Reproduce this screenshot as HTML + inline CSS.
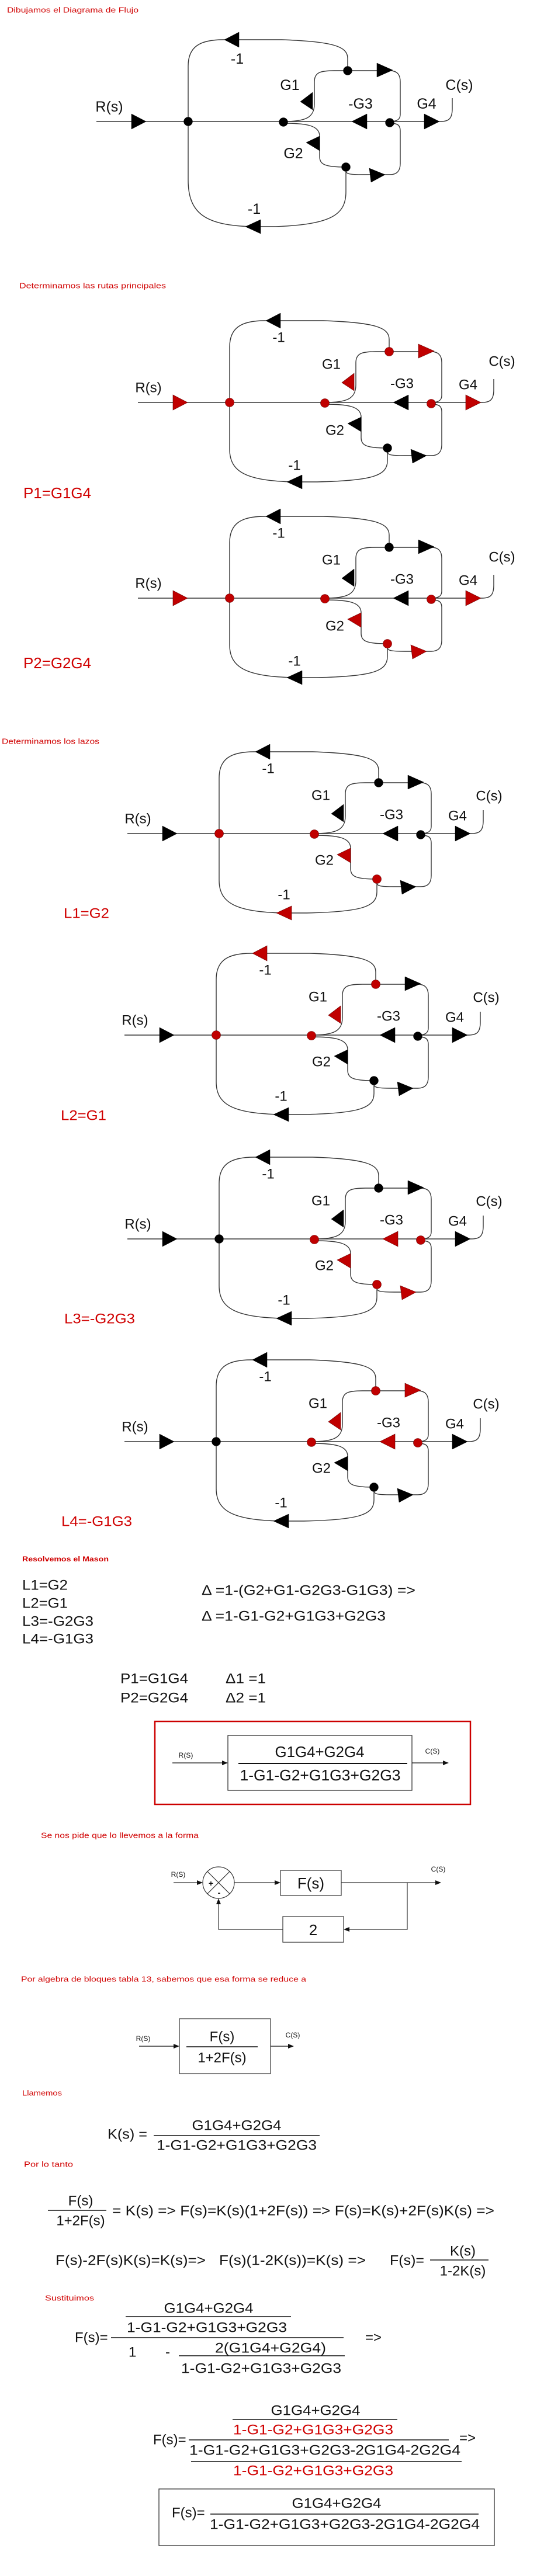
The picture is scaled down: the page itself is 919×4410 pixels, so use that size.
<!DOCTYPE html>
<html><head><meta charset="utf-8"><style>
html,body{margin:0;padding:0;background:#fff;}
svg{display:block;}
.t{font-family:"Liberation Sans",sans-serif;fill:#111;}
.r{font-family:"Liberation Sans",sans-serif;fill:#d00000;}
</style></head><body>
<svg width="919" height="4410" viewBox="0 0 919 4410" xmlns="http://www.w3.org/2000/svg">
<defs>
<g id="core" fill="none" stroke="#333" stroke-width="1.4">
  <path d="M-157 0 H346"/>
  <path d="M346 0 H432 C446 0 452 -5 452 -22 V-40"/>
  <path d="M0 0 V-95 C0 -128 20 -140 60 -140 H160 C250 -137 273 -128 273 -108 V-87"/>
  <path d="M163 0 C200 0 216 -6 216 -30 V-68 C216 -84 226 -87 250 -87 H273 H345 C358 -87 363 -80 363 -68 V-12 C363 -4 358 0 346 0"/>
  <path d="M163 3 C200 3 225 6 225 25 V60 C225 74 235 78 270 78 M270 78 V84 C270 90 276 91 300 91 H345 C358 91 363 84 363 72 V16 C363 6 358 3 346 3"/>
</g>
<path id="blN" fill="none" stroke="#333" stroke-width="1.4" d="M0 0 V80 C0 120 30 134 110 136 H150 C245 134 270 125 270 100 V78"/>
<path id="blD" fill="none" stroke="#333" stroke-width="1.4" d="M0 0 V100 C0 158 30 178 110 180 H150 C245 176 270 160 270 120 V78"/>
<polygon id="aIn" points="-97,-13 -72,0 -97,13"/>
<polygon id="aTL" points="62,-140 87,-153 87,-127"/>
<polygon id="aTR" points="323,-100 350,-88 323,-76"/>
<polygon id="aG1" points="192,-34 213,-50 213,-20"/>
<polygon id="aG2" points="202,36 225,25 225,50"/>
<polygon id="aG3" points="280,0 306,-13 306,13"/>
<polygon id="aG4" points="404,-13 430,0 404,13"/>
<polygon id="aLR" points="310,80 337,91 313,104"/>
<polygon id="aBL" points="98,136 124,124 124,148"/>
<polygon id="aBD" points="98,180 124,168 124,192"/>
<circle id="n1" cx="0" cy="0" r="7.5"/>
<circle id="n2" cx="163" cy="1" r="7.5"/>
<circle id="n3" cx="345" cy="2" r="7.5"/>
<circle id="n4" cx="273" cy="-87" r="7.5"/>
<circle id="n5" cx="270" cy="78" r="7.5"/>
<g id="lbl" class="t" font-size="24" text-anchor="middle" dominant-baseline="central">
</g>
</defs>

<!-- ===== Diagram 1 ===== -->
<text x="12" y="17" class="r" font-size="13" dominant-baseline="central" textLength="225" lengthAdjust="spacingAndGlyphs">Dibujamos el Diagrama de Flujo</text>
<g transform="translate(322,208)">
<use href="#core"/><use href="#blD"/>
<g fill="#000" stroke="#000" stroke-width="0.5">
<use href="#aIn"/><use href="#aTL"/><use href="#aTR"/><use href="#aG1"/><use href="#aG2"/><use href="#aG3"/><use href="#aG4"/><use href="#aLR"/><use href="#aBD"/>
<use href="#n1"/><use href="#n2"/><use href="#n3"/><use href="#n4"/><use href="#n5"/>
</g>
<g class="t" font-size="25" text-anchor="middle" dominant-baseline="central">
<text x="-135" y="-25">R(s)</text><text x="84" y="-107">-1</text><text x="174" y="-62">G1</text><text x="295" y="-30">-G3</text><text x="408" y="-30">G4</text><text x="464" y="-62">C(s)</text><text x="180" y="55">G2</text><text x="113" y="150">-1</text>
</g>
</g>

<!-- ===== P1 ===== -->
<text x="33" y="489" class="r" font-size="13" dominant-baseline="central" textLength="251" lengthAdjust="spacingAndGlyphs">Determinamos las rutas principales</text>
<g transform="translate(393,689)">
<use href="#core"/><use href="#blN"/>
<g fill="#000" stroke="#000" stroke-width="0.5"><use href="#aTL"/><use href="#aG2"/><use href="#aG3"/><use href="#aLR"/><use href="#aBL"/><use href="#n5"/></g>
<g fill="#c00000" stroke="#600" stroke-width="0.6"><use href="#aIn"/><use href="#aG1"/><use href="#aTR"/><use href="#aG4"/><use href="#n1"/><use href="#n2"/><use href="#n3"/><use href="#n4"/></g>
<g class="t" font-size="24" text-anchor="middle" dominant-baseline="central">
<text x="-139" y="-25">R(s)</text><text x="84" y="-111">-1</text><text x="174" y="-65">G1</text><text x="295" y="-32">-G3</text><text x="408" y="-30">G4</text><text x="466" y="-70">C(s)</text><text x="180" y="48">G2</text><text x="111" y="108">-1</text>
</g>
</g>
<text x="40" y="844" class="r" font-size="26" dominant-baseline="central" textLength="116" lengthAdjust="spacingAndGlyphs">P1=G1G4</text>

<!-- ===== P2 ===== -->
<g transform="translate(393,1024)">
<use href="#core"/><use href="#blN"/>
<g fill="#000" stroke="#000" stroke-width="0.5"><use href="#aTL"/><use href="#aG1"/><use href="#aG3"/><use href="#aTR"/><use href="#aBL"/><use href="#n4"/></g>
<g fill="#c00000" stroke="#600" stroke-width="0.6"><use href="#aIn"/><use href="#aG2"/><use href="#aLR"/><use href="#aG4"/><use href="#n1"/><use href="#n2"/><use href="#n3"/><use href="#n5"/></g>
<g class="t" font-size="24" text-anchor="middle" dominant-baseline="central">
<text x="-139" y="-25">R(s)</text><text x="84" y="-111">-1</text><text x="174" y="-65">G1</text><text x="295" y="-32">-G3</text><text x="408" y="-30">G4</text><text x="466" y="-70">C(s)</text><text x="180" y="48">G2</text><text x="111" y="108">-1</text>
</g>
</g>
<text x="40" y="1135" class="r" font-size="26" dominant-baseline="central" textLength="116" lengthAdjust="spacingAndGlyphs">P2=G2G4</text>

<!-- ===== L1 ===== -->
<text x="3" y="1269" class="r" font-size="13" dominant-baseline="central" textLength="167" lengthAdjust="spacingAndGlyphs">Determinamos los lazos</text>
<g transform="translate(375,1427)">
<use href="#core"/><use href="#blN"/>
<g fill="#000" stroke="#000" stroke-width="0.5"><use href="#aIn"/><use href="#aTL"/><use href="#aG1"/><use href="#aG3"/><use href="#aTR"/><use href="#aLR"/><use href="#aG4"/><use href="#n3"/><use href="#n4"/></g>
<g fill="#c00000" stroke="#600" stroke-width="0.6"><use href="#aG2"/><use href="#aBL"/><use href="#n1"/><use href="#n2"/><use href="#n5"/></g>
<g class="t" font-size="24" text-anchor="middle" dominant-baseline="central">
<text x="-139" y="-25">R(s)</text><text x="84" y="-111">-1</text><text x="174" y="-65">G1</text><text x="295" y="-32">-G3</text><text x="408" y="-30">G4</text><text x="462" y="-64">C(s)</text><text x="180" y="46">G2</text><text x="111" y="105">-1</text>
</g>
</g>
<text x="109" y="1564" class="r" font-size="24" dominant-baseline="central" textLength="78" lengthAdjust="spacingAndGlyphs">L1=G2</text>

<!-- ===== L2 ===== -->
<g transform="translate(370,1772)">
<use href="#core"/><use href="#blN"/>
<g fill="#000" stroke="#000" stroke-width="0.5"><use href="#aIn"/><use href="#aG2"/><use href="#aG3"/><use href="#aTR"/><use href="#aLR"/><use href="#aG4"/><use href="#aBL"/><use href="#n3"/><use href="#n5"/></g>
<g fill="#c00000" stroke="#600" stroke-width="0.6"><use href="#aG1"/><use href="#aTL"/><use href="#n1"/><use href="#n2"/><use href="#n4"/></g>
<g class="t" font-size="24" text-anchor="middle" dominant-baseline="central">
<text x="-139" y="-25">R(s)</text><text x="84" y="-111">-1</text><text x="174" y="-65">G1</text><text x="295" y="-32">-G3</text><text x="408" y="-30">G4</text><text x="462" y="-64">C(s)</text><text x="180" y="46">G2</text><text x="111" y="105">-1</text>
</g>
</g>
<text x="104" y="1910" class="r" font-size="24" dominant-baseline="central" textLength="78" lengthAdjust="spacingAndGlyphs">L2=G1</text>

<!-- ===== L3 ===== -->
<g transform="translate(375,2121)">
<use href="#core"/><use href="#blN"/>
<g fill="#000" stroke="#000" stroke-width="0.5"><use href="#aIn"/><use href="#aTL"/><use href="#aG1"/><use href="#aTR"/><use href="#aG4"/><use href="#aBL"/><use href="#n1"/><use href="#n4"/></g>
<g fill="#c00000" stroke="#600" stroke-width="0.6"><use href="#aG2"/><use href="#aLR"/><use href="#aG3"/><use href="#n2"/><use href="#n3"/><use href="#n5"/></g>
<g class="t" font-size="24" text-anchor="middle" dominant-baseline="central">
<text x="-139" y="-25">R(s)</text><text x="84" y="-111">-1</text><text x="174" y="-65">G1</text><text x="295" y="-32">-G3</text><text x="408" y="-30">G4</text><text x="462" y="-64">C(s)</text><text x="180" y="46">G2</text><text x="111" y="105">-1</text>
</g>
</g>
<text x="110" y="2258" class="r" font-size="24" dominant-baseline="central" textLength="121" lengthAdjust="spacingAndGlyphs">L3=-G2G3</text>

<!-- ===== L4 ===== -->
<g transform="translate(370,2468)">
<use href="#core"/><use href="#blN"/>
<g fill="#000" stroke="#000" stroke-width="0.5"><use href="#aIn"/><use href="#aTL"/><use href="#aG2"/><use href="#aLR"/><use href="#aG4"/><use href="#aBL"/><use href="#n1"/><use href="#n5"/></g>
<g fill="#c00000" stroke="#600" stroke-width="0.6"><use href="#aG1"/><use href="#aTR"/><use href="#aG3"/><use href="#n2"/><use href="#n3"/><use href="#n4"/></g>
<g class="t" font-size="24" text-anchor="middle" dominant-baseline="central">
<text x="-139" y="-25">R(s)</text><text x="84" y="-111">-1</text><text x="174" y="-65">G1</text><text x="295" y="-32">-G3</text><text x="408" y="-30">G4</text><text x="462" y="-64">C(s)</text><text x="180" y="46">G2</text><text x="111" y="105">-1</text>
</g>
</g>
<text x="105" y="2605" class="r" font-size="24" dominant-baseline="central" textLength="121" lengthAdjust="spacingAndGlyphs">L4=-G1G3</text>

<!-- ===== Mason ===== -->
<text x="38" y="2669" class="r" font-size="12" font-weight="bold" dominant-baseline="central" textLength="148" lengthAdjust="spacingAndGlyphs">Resolvemos el Mason</text>
<g class="t" font-size="24" dominant-baseline="central">
<text x="38" y="2714" textLength="78" lengthAdjust="spacingAndGlyphs">L1=G2</text>
<text x="38" y="2745" textLength="78" lengthAdjust="spacingAndGlyphs">L2=G1</text>
<text x="38" y="2776" textLength="122" lengthAdjust="spacingAndGlyphs">L3=-G2G3</text>
<text x="38" y="2806" textLength="122" lengthAdjust="spacingAndGlyphs">L4=-G1G3</text>
<text x="345" y="2723" textLength="366" lengthAdjust="spacingAndGlyphs">Δ =1-(G2+G1-G2G3-G1G3) =&gt;</text>
<text x="345" y="2767" textLength="315" lengthAdjust="spacingAndGlyphs">Δ =1-G1-G2+G1G3+G2G3</text>
<text x="206" y="2874" textLength="116" lengthAdjust="spacingAndGlyphs">P1=G1G4</text>
<text x="206" y="2907" textLength="116" lengthAdjust="spacingAndGlyphs">P2=G2G4</text>
<text x="386" y="2874" textLength="69" lengthAdjust="spacingAndGlyphs">Δ1 =1</text>
<text x="386" y="2907" textLength="69" lengthAdjust="spacingAndGlyphs">Δ2 =1</text>
</g>
<rect x="265" y="2947" width="540" height="142" fill="none" stroke="#cc0000" stroke-width="2.5"/>
<rect x="390" y="2971" width="315" height="94" fill="none" stroke="#333" stroke-width="1.3"/>
<line x1="408" y1="3019" x2="697" y2="3019" stroke="#111" stroke-width="2"/>
<g class="t" font-size="26" text-anchor="middle" dominant-baseline="central">
<text x="547" y="2999" textLength="153" lengthAdjust="spacingAndGlyphs">G1G4+G2G4</text>
<text x="548" y="3039" textLength="275" lengthAdjust="spacingAndGlyphs">1-G1-G2+G1G3+G2G3</text>
</g>
<g stroke="#111" stroke-width="1.2"><line x1="295" y1="3018" x2="382" y2="3018"/><line x1="705" y1="3018" x2="760" y2="3018"/></g>
<polygon points="390,3018 380,3014 380,3022" fill="#111"/><polygon points="768,3018 758,3014 758,3022" fill="#111"/>
<text x="318" y="3005" class="t" font-size="12" text-anchor="middle" dominant-baseline="central">R(S)</text>
<text x="740" y="2998" class="t" font-size="12" text-anchor="middle" dominant-baseline="central">C(S)</text>

<!-- ===== Feedback form ===== -->
<text x="70" y="3142" class="r" font-size="13" dominant-baseline="central" textLength="270" lengthAdjust="spacingAndGlyphs">Se nos pide que lo llevemos a la forma</text>
<g stroke="#333" stroke-width="1.2" fill="none">
<circle cx="374" cy="3223" r="27"/>
<line x1="355" y1="3204" x2="393" y2="3242"/><line x1="393" y1="3204" x2="355" y2="3242"/>
<line x1="297" y1="3223" x2="340" y2="3223"/>
<line x1="401" y1="3223" x2="472" y2="3223"/>
<rect x="480" y="3202" width="104" height="43"/>
<line x1="584" y1="3223" x2="747" y2="3223"/>
<polyline points="697,3223 697,3303 596,3303"/>
<rect x="484" y="3281" width="104" height="44"/>
<polyline points="484,3303 374,3303 374,3258"/>
</g>
<g fill="#111">
<polygon points="347,3223 337,3219 337,3227"/><polygon points="480,3223 470,3219 470,3227"/>
<polygon points="755,3223 745,3219 745,3227"/><polygon points="588,3303 598,3299 598,3307"/>
<polygon points="374,3250 370,3260 378,3260"/>
</g>
<g class="t" text-anchor="middle" dominant-baseline="central">
<text x="305" y="3209" font-size="12">R(S)</text><text x="750" y="3200" font-size="12">C(S)</text>
<text x="361" y="3224" font-size="14" font-weight="bold">+</text><text x="375" y="3240" font-size="14" font-weight="bold">-</text>
<text x="532" y="3224" font-size="26">F(s)</text><text x="536" y="3304" font-size="26">2</text>
</g>

<!-- ===== Reduced ===== -->
<text x="36" y="3388" class="r" font-size="13" dominant-baseline="central" textLength="488" lengthAdjust="spacingAndGlyphs">Por algebra de bloques tabla 13, sabemos que esa forma se reduce a</text>
<rect x="307" y="3456" width="156" height="94" fill="none" stroke="#333" stroke-width="1.2"/>
<line x1="319" y1="3504" x2="441" y2="3504" stroke="#111" stroke-width="1.5"/>
<g stroke="#111" stroke-width="1.2"><line x1="238" y1="3503" x2="299" y2="3503"/><line x1="463" y1="3503" x2="495" y2="3503"/></g>
<polygon points="307,3503 297,3499 297,3507" fill="#111"/><polygon points="503,3503 493,3499 493,3507" fill="#111"/>
<g class="t" text-anchor="middle" dominant-baseline="central">
<text x="245" y="3490" font-size="12">R(S)</text><text x="501" y="3484" font-size="12">C(S)</text>
<text x="380" y="3487" font-size="24">F(s)</text><text x="380" y="3523" font-size="24">1+2F(s)</text>
</g>

<!-- ===== Algebra ===== -->
<text x="38" y="3583" class="r" font-size="13" dominant-baseline="central" textLength="68" lengthAdjust="spacingAndGlyphs">Llamemos</text>
<g class="t" font-size="24" dominant-baseline="central">
<text x="184" y="3654" textLength="68" lengthAdjust="spacingAndGlyphs">K(s) =</text>
<text x="405" y="3639" text-anchor="middle" textLength="153" lengthAdjust="spacingAndGlyphs">G1G4+G2G4</text>
<text x="405" y="3673" text-anchor="middle" textLength="274" lengthAdjust="spacingAndGlyphs">1-G1-G2+G1G3+G2G3</text>
</g>
<line x1="263" y1="3656" x2="547" y2="3656" stroke="#111" stroke-width="1.5"/>

<text x="41" y="3705" class="r" font-size="13" dominant-baseline="central" textLength="84" lengthAdjust="spacingAndGlyphs">Por lo tanto</text>
<g class="t" font-size="24" dominant-baseline="central">
<text x="138" y="3768" text-anchor="middle">F(s)</text>
<text x="138" y="3802" text-anchor="middle">1+2F(s)</text>
<text x="192" y="3785" textLength="654" lengthAdjust="spacingAndGlyphs">= K(s) =&gt;  F(s)=K(s)(1+2F(s)) =&gt;  F(s)=K(s)+2F(s)K(s) =&gt;</text>
<text x="95" y="3870" textLength="257" lengthAdjust="spacingAndGlyphs">F(s)-2F(s)K(s)=K(s)=&gt;</text>
<text x="375" y="3870" textLength="251" lengthAdjust="spacingAndGlyphs">F(s)(1-2K(s))=K(s) =&gt;</text>
<text x="667" y="3870" textLength="59" lengthAdjust="spacingAndGlyphs">F(s)=</text>
<text x="792" y="3854" text-anchor="middle">K(s)</text>
<text x="792" y="3888" text-anchor="middle">1-2K(s)</text>
</g>
<line x1="82" y1="3784" x2="182" y2="3784" stroke="#111" stroke-width="1.5"/>
<line x1="736" y1="3869" x2="836" y2="3869" stroke="#111" stroke-width="1.5"/>

<text x="77" y="3934" class="r" font-size="13" dominant-baseline="central" textLength="84" lengthAdjust="spacingAndGlyphs">Sustituimos</text>
<g class="t" font-size="24" dominant-baseline="central">
<text x="128" y="4002">F(s)=</text>
<text x="357" y="3952" text-anchor="middle" textLength="153" lengthAdjust="spacingAndGlyphs">G1G4+G2G4</text>
<text x="354" y="3985" text-anchor="middle" textLength="274" lengthAdjust="spacingAndGlyphs">1-G1-G2+G1G3+G2G3</text>
<text x="220" y="4027">1</text><text x="283" y="4027">-</text>
<text x="463" y="4020" text-anchor="middle" textLength="190" lengthAdjust="spacingAndGlyphs">2(G1G4+G2G4)</text>
<text x="447" y="4055" text-anchor="middle" textLength="274" lengthAdjust="spacingAndGlyphs">1-G1-G2+G1G3+G2G3</text>
<text x="625" y="4002">=&gt;</text>
</g>
<g stroke="#111" stroke-width="1.5"><line x1="215" y1="3966" x2="498" y2="3966"/><line x1="190" y1="4002" x2="588" y2="4002"/><line x1="306" y1="4033" x2="590" y2="4033"/></g>

<g font-size="24" dominant-baseline="central" font-family="Liberation Sans, sans-serif">
<text x="262" y="4177" fill="#111">F(s)=</text>
<text x="540" y="4127" fill="#111" text-anchor="middle" textLength="153" lengthAdjust="spacingAndGlyphs">G1G4+G2G4</text>
<text x="536" y="4160" fill="#d00000" text-anchor="middle" textLength="274" lengthAdjust="spacingAndGlyphs">1-G1-G2+G1G3+G2G3</text>
<text x="556" y="4195" fill="#111" text-anchor="middle" textLength="464" lengthAdjust="spacingAndGlyphs">1-G1-G2+G1G3+G2G3-2G1G4-2G2G4</text>
<text x="536" y="4230" fill="#d00000" text-anchor="middle" textLength="274" lengthAdjust="spacingAndGlyphs">1-G1-G2+G1G3+G2G3</text>
<text x="786" y="4174" fill="#111">=&gt;</text>
</g>
<g stroke="#111" stroke-width="1.5"><line x1="398" y1="4142" x2="680" y2="4142"/><line x1="323" y1="4177" x2="768" y2="4177"/><line x1="327" y1="4214" x2="790" y2="4214"/></g>

<rect x="272" y="4261" width="574" height="97" fill="none" stroke="#333" stroke-width="1.3"/>
<g class="t" font-size="24" dominant-baseline="central">
<text x="294" y="4302">F(s)=</text>
<text x="576" y="4286" text-anchor="middle" textLength="153" lengthAdjust="spacingAndGlyphs">G1G4+G2G4</text>
<text x="590" y="4322" text-anchor="middle" textLength="462" lengthAdjust="spacingAndGlyphs">1-G1-G2+G1G3+G2G3-2G1G4-2G2G4</text>
</g>
<line x1="360" y1="4304" x2="819" y2="4304" stroke="#111" stroke-width="1.5"/>
</svg>
</body></html>
